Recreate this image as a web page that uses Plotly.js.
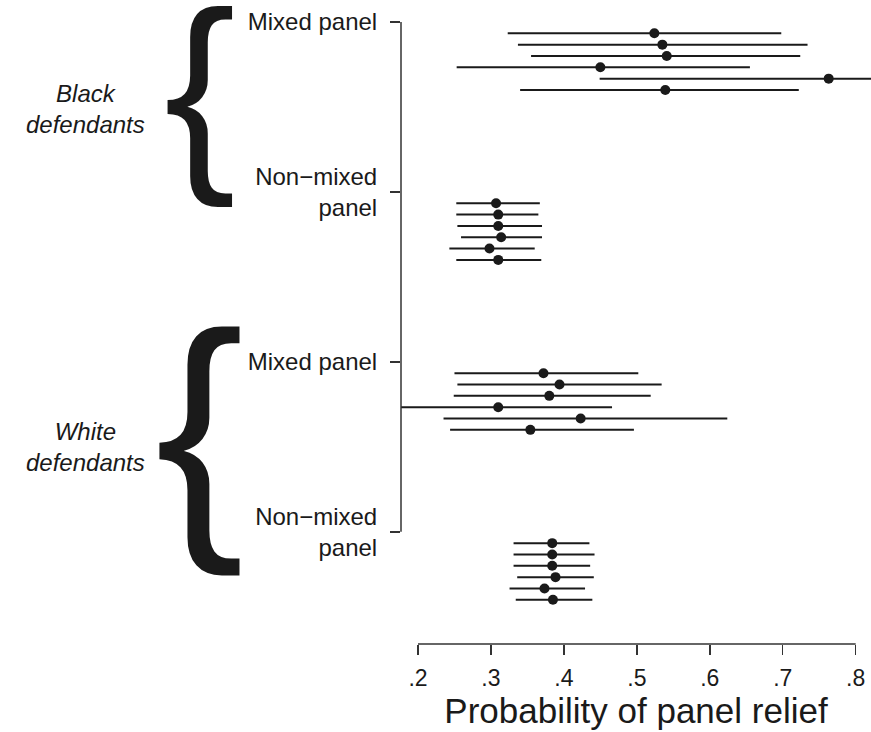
<!DOCTYPE html>
<html>
<head>
<meta charset="utf-8">
<script src="https://cdn.plot.ly/plotly-3.0.1.min.js"></script>
<style>html,body{margin:0;padding:0;background:#fff;}#chart{width:871px;height:732px;}</style>
</head>
<body>
<div id="chart"></div>
<script>
// Panel categories (y axis) and group labels
const panelLabels = ['Mixed panel', 'Non\u2212mixed<br>panel', 'Mixed panel', 'Non\u2212mixed<br>panel'];
const defendantGroups = ['Black<br>defendants', 'White<br>defendants'];
const xTickValues = [0.2, 0.3, 0.4, 0.5, 0.6, 0.7, 0.8];
const xTickLabels = ['.2', '.3', '.4', '.5', '.6', '.7', '.8'];

// Black defendants, mixed panel
const bmEst = [0.524, 0.535, 0.541, 0.450, 0.763, 0.539];
const bmLo  = [0.323, 0.337, 0.355, 0.253, 0.449, 0.340];
const bmHi  = [0.698, 0.734, 0.724, 0.655, 0.930, 0.722];
// Black defendants, non-mixed panel
const bnEst = [0.307, 0.310, 0.310, 0.314, 0.298, 0.310];
const bnLo  = [0.2525, 0.2525, 0.254, 0.259, 0.243, 0.2525];
const bnHi  = [0.367, 0.365, 0.370, 0.370, 0.360, 0.369];
// White defendants, mixed panel
const wmEst = [0.372, 0.394, 0.380, 0.310, 0.423, 0.354];
const wmLo  = [0.250, 0.254, 0.249, 0.150, 0.235, 0.244];
const wmHi  = [0.502, 0.534, 0.519, 0.466, 0.624, 0.496];
// White defendants, non-mixed panel
const wnEst = [0.384, 0.384, 0.384, 0.3885, 0.3734, 0.385];
const wnLo  = [0.331, 0.331, 0.331, 0.336, 0.3255, 0.334];
const wnHi  = [0.435, 0.442, 0.436, 0.441, 0.429, 0.439];

const series = [
  {est: bmEst, lo: bmLo, hi: bmHi},
  {est: bnEst, lo: bnLo, hi: bnHi},
  {est: wmEst, lo: wmLo, hi: wmHi},
  {est: wnEst, lo: wnLo, hi: wnHi}
];

const GAP = 15; // spacing between panel categories in y units
const ink = '#1a1a1a';
const FONT = 'Arial, "Liberation Sans", Helvetica, sans-serif';

const traces = series.map((s, gi) => ({
  type: 'scatter',
  mode: 'markers',
  x: s.est,
  y: s.est.map((_, i) => gi * GAP + i + 1),
  marker: {color: ink, size: 10, symbol: 'circle'},
  error_x: {
    type: 'data', symmetric: false,
    array: s.hi.map((h, i) => h - s.est[i]),
    arrayminus: s.lo.map((l, i) => s.est[i] - l),
    width: 0, thickness: 2, color: ink
  },
  hoverinfo: 'x',
  showlegend: false
}));

const tickVals = panelLabels.map((_, i) => i * GAP);

const layout = {
  width: 871, height: 732,
  margin: {l: 401, r: 0, t: 0, b: 88},
  paper_bgcolor: '#fff', plot_bgcolor: '#fff',
  font: {family: FONT, color: ink},
  showlegend: false,
  xaxis: {
    range: [0.1767, 0.821],
    tickvals: xTickValues, ticktext: xTickLabels,
    ticks: 'outside', ticklen: 10, tickwidth: 1.5, tickcolor: '#333',
    showgrid: false, zeroline: false, showline: false,
    tickfont: {size: 23, color: ink},
    ticklabelstandoff: 3,
    title: {text: 'Probability of panel relief', font: {size: 35, color: ink}, standoff: 0}
  },
  yaxis: {
    range: [54.9, -1.94],
    tickvals: tickVals, ticktext: panelLabels,
    ticks: 'outside', ticklen: 10, tickwidth: 1.5, tickcolor: '#333',
    showgrid: false, zeroline: false, showline: false,
    tickfont: {size: 24, color: ink},
    ticklabelstandoff: 8
  },
  shapes: [
    {type: 'line', xref: 'x', yref: 'paper', x0: xTickValues[0], x1: xTickValues[xTickValues.length - 1], y0: 0, y1: 0, line: {color: '#333', width: 1.5}},
    {type: 'line', xref: 'paper', yref: 'y', x0: 0, x1: 0, y0: tickVals[0], y1: tickVals[tickVals.length - 1], line: {color: '#333', width: 1.5}}
  ],
  annotations: [
    {xref: 'paper', yref: 'y', x: -0.672, y: 7.7, text: defendantGroups[0], showarrow: false, xanchor: 'center', yanchor: 'middle', font: {size: 24, color: ink, style: 'italic'}},
    {xref: 'paper', yref: 'y', x: -0.672, y: 37.5, text: defendantGroups[1], showarrow: false, xanchor: 'center', yanchor: 'middle', font: {size: 24, color: ink, style: 'italic'}},
    {xref: 'paper', yref: 'y', x: -0.428, y: 7.54, yshift: 20, text: '{', showarrow: false, xanchor: 'center', yanchor: 'middle', font: {size: 215, color: ink}},
    {xref: 'paper', yref: 'y', x: -0.428, y: 37.6, yshift: 20, text: '{', showarrow: false, xanchor: 'center', yanchor: 'middle', font: {size: 267, color: ink}}
  ]
};

Plotly.newPlot('chart', traces, layout, {staticPlot: true, displayModeBar: false});
</script>
</body>
</html>
